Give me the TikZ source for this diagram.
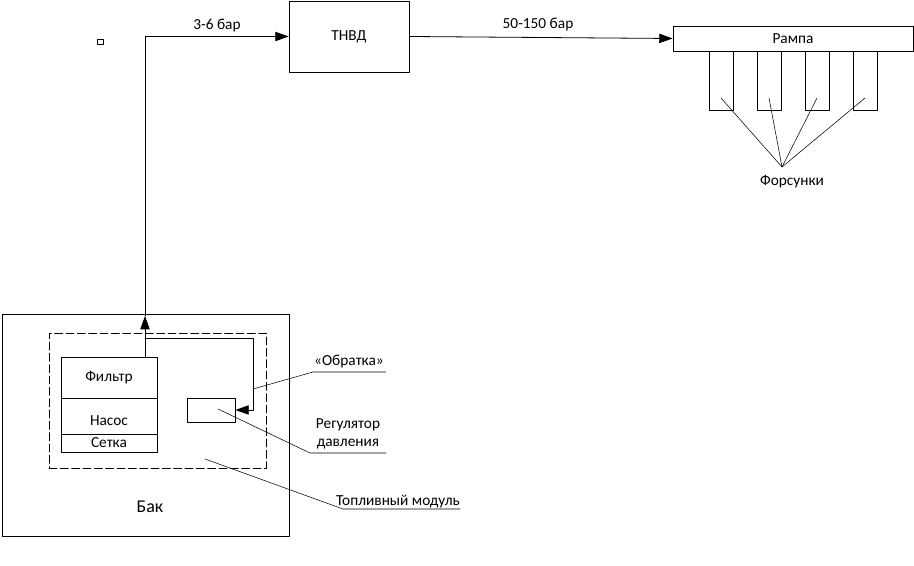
\documentclass[tikz,border=0pt]{standalone}
\usepackage{fontspec}
\setmainfont{Carlito}
\usepackage{tikz}
\usetikzlibrary{arrows}
\usetikzlibrary{arrows.meta,calc}

\tikzset{
    blok/.style={draw,line width=0.6pt,rectangle,inner sep=0pt},
    vynoska/.style={line width=0.4pt},
    potok/.style={line width=0.6pt,-{Triangle[length=10pt,width=7pt]}}
}

\begin{document}
\begin{tikzpicture}[line cap=round,line join=round,x=0.75pt,y=-0.75pt,font=\fontsize{11.5}{13.5}\selectfont]
                \useasboundingbox (0,0) rectangle (914,566);
                % ТНВД и рампа
                \node[blok,minimum width=90pt,minimum height=53.25pt] (tnvd) at (349,36.5) {ТНВД};
                \node[blok,minimum width=180pt,minimum height=18.75pt] (rampa) at (793,38.5) {Рампа};
                \foreach \i in {0,...,3}
                    \node[blok,minimum width=18pt,minimum height=44.25pt] (fors\i) at (721+48*\i,80.5) {};
                \coordinate (forsTochka) at (782,167);
                \node (forsTxt) at (792,182) {Форсунки};
                \foreach \i in {0,...,3}
                    \draw[vynoska] (forsTochka) -- ($(fors\i.center)+(0,17.5)$);
                \draw [line width=0.6pt] (97,39) rectangle (103,44);
                % бак
                \node[blok,minimum width=215.25pt,minimum height=166.5pt] (bak) at (145.5,425) {};
                \node (bakTxt) at (150,507) {\fontsize{13.5}{15}\selectfont Бак};
                \node[blok,dash pattern=on 6pt off 2.5pt,minimum width=162.75pt,minimum height=101.25pt] (modul) at (157.5,400.5) {};
                \node[blok,minimum width=72pt,minimum height=30.75pt] (filtr) at (109,377.5) {Фильтр};
                \node[blok,minimum width=72pt,minimum height=27pt,label={[yshift=-3.5pt]center:Насос}] (nasos) at (109,416) {};
                \node[blok,minimum width=72pt,minimum height=13.5pt] (setka) at (109,443) {Сетка};
                \node[blok,minimum width=36pt,minimum height=18pt] (reg) at (211,410) {};
                % линии топлива
                \coordinate (vyhod) at (145,357);
                \coordinate (vverh) at (145,316);
                \coordinate (obrNachalo) at (145,338);
                \coordinate (obrUgol) at (253,338);
                \draw[potok] (vyhod) -- (vverh);
                \draw[potok] (vverh) |- (tnvd.west);
                \draw[potok] (tnvd.east) -- (rampa.west);
                \draw[potok] (obrNachalo) -- (obrUgol) |- (reg.east);
                \node (davl1) at (217,26) {3-6 бар};
                \node (davl2) at (538,25) {50-150 бар};
                % выноски
                \node (obrTxt) at (349,362) {«Обратка»};
                \draw[vynoska] (253,389) -- (313,372) -- (386,372);
                \node[align=center,inner sep=1pt] (regTxt) at (348,433.5) {Регулятор\\давления};
                \draw[vynoska] (218,409) -- (310,453) -- (386,453);
                \node (modTxt) at (398,502) {Топливный модуль};
                \draw[vynoska] (205,459) -- (343,509) -- (460,509);
            \end{tikzpicture}
\end{document}
